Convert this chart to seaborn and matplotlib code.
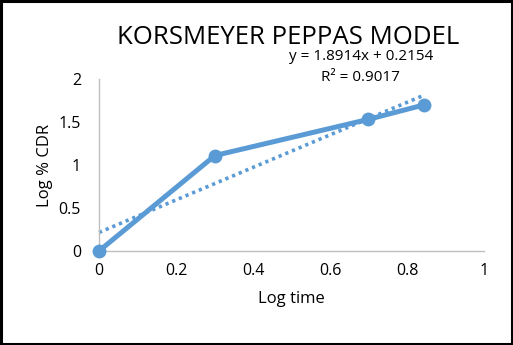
import numpy as np
import pandas as pd
import matplotlib
matplotlib.use("Agg")
import matplotlib.pyplot as plt
import seaborn as sns

# Release data (log scale)
log_time = [0.0, 0.301, 0.699, 0.845]
log_cdr = [0.0, 1.11, 1.53, 1.70]

# Linear trendline reported for the data
slope = 1.8914
intercept = 0.2154
r_squared = 0.9017

x_ticks = [0, 0.2, 0.4, 0.6, 0.8, 1]
x_tick_labels = ["0", "0.2", "0.4", "0.6", "0.8", "1"]
y_ticks = [0, 0.5, 1, 1.5, 2]
y_tick_labels = ["0", "0.5", "1", "1.5", "2"]

sns.set_theme(style="white")
plt.rcParams["font.family"] = ["Open Sans", "DejaVu Sans"]

blue = "#5B9BD5"
text_col = "#000000"

fig = plt.figure(figsize=(5.13, 3.45), dpi=100)
ax = fig.add_axes([0.193, 0.2725, 0.7505, 0.4985])

df = pd.DataFrame({"log_time": log_time, "log_cdr": log_cdr})
trend_x = np.array([min(log_time), max(log_time)])
trend = pd.DataFrame({"x": trend_x, "y": slope * trend_x + intercept})

sns.lineplot(data=trend, x="x", y="y", ax=ax, color=blue, lw=2.6,
             linestyle=(0, (0.9, 1.1)), zorder=2)
sns.lineplot(data=df, x="log_time", y="log_cdr", ax=ax, color=blue, lw=3.6,
             marker="o", markersize=10, markeredgewidth=0, zorder=3)

ax.set_xlim(0, 1)
ax.set_ylim(0, 2)
ax.set_xticks(x_ticks)
ax.set_xticklabels(x_tick_labels)
ax.set_yticks(y_ticks)
ax.set_yticklabels(y_tick_labels)
ax.tick_params(axis="both", length=0, labelsize=11.5, colors=text_col)
ax.tick_params(axis="x", pad=9)
ax.tick_params(axis="y", pad=13)

for side in ("top", "right"):
    ax.spines[side].set_visible(False)
for side in ("left", "bottom"):
    ax.spines[side].set_color("#BFBFBF")
    ax.spines[side].set_linewidth(1.0)
for line in ax.lines:
    line.set_clip_on(False)

ax.set_xlabel("Log time", fontsize=12, color=text_col, labelpad=8)
ax.set_ylabel("Log % CDR", fontsize=12, color=text_col, labelpad=4)

fig.text(0.562, 0.892, "KORSMEYER PEPPAS MODEL", fontsize=18.5, color=text_col,
         ha="center", va="center")
fig.text(0.703, 0.836, f"y = {slope}x + {intercept}", fontsize=11, color=text_col,
         ha="center", va="center")
fig.text(0.703, 0.775, f"R² = {r_squared}", fontsize=11, color=text_col,
         ha="center", va="center")

# Outer chart frame
fig.patches.append(plt.Rectangle((0.002, 0.003), 0.996, 0.994, transform=fig.transFigure,
                                 fill=False, edgecolor="black", linewidth=2.2))

fig.savefig("out.png", dpi=100)
